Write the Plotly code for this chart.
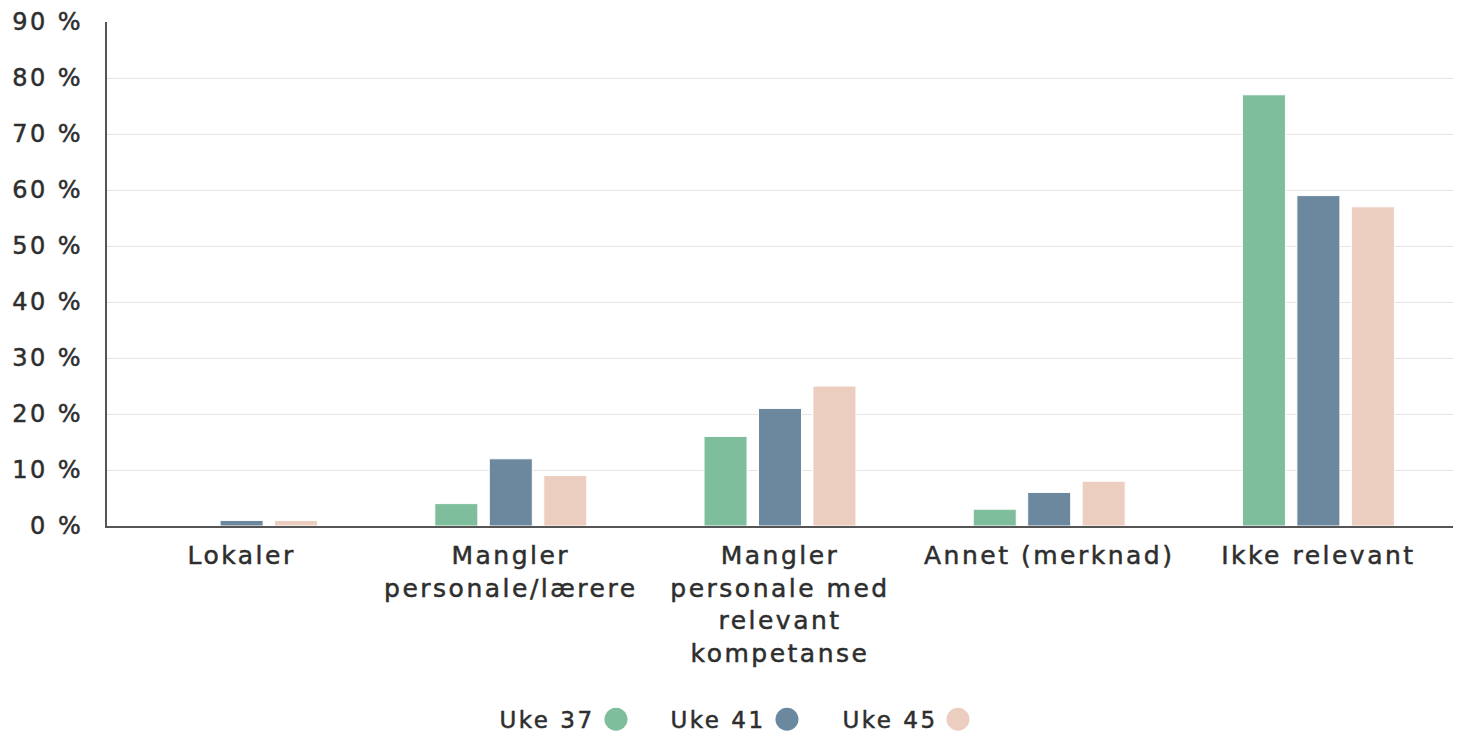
import plotly.graph_objects as go

categories = ["Lokaler", "Mangler<br>personale/lærere", "Mangler<br>personale med<br>relevant<br>kompetanse",
              "Annet (merknad)", "Ikke relevant"]
series_names = ["Uke 37", "Uke 41", "Uke 45"]
uke37 = [0, 4, 16, 3, 77]
uke41 = [1, 12, 21, 6, 59]
uke45 = [1, 9, 25, 8, 57]
colors = ["#7EBE9C", "#6B889E", "#ECCEC1"]
tick_vals = [0, 10, 20, 30, 40, 50, 60, 70, 80, 90]
tick_text = ["0 %", "10 %", "20 %", "30 %", "40 %", "50 %", "60 %", "70 %", "80 %", "90 %"]

FONT = "DejaVu Sans"
TXT = "#2e2e2e"

fig = go.Figure()
for name, vals, col in zip(series_names, [uke37, uke41, uke45], colors):
    fig.add_trace(go.Bar(name=name, x=categories, y=vals, marker=dict(color=col, line=dict(color="white", width=1)),
                         showlegend=False))

W, H = 1461, 733
L, R, T, B = 107, 8, 20, 733 - 526
pw, ph = W - L - R, H - T - B

def px(x):
    return (x - L) / pw

def py(y):
    return (H - B - y) / ph

legend_items = [("Uke 37", 589, 616), ("Uke 41", 760, 787), ("Uke 45", 932, 958)]
shapes = []
annotations = []
for (name, tx, cx), col in zip(legend_items, colors):
    annotations.append(dict(text=name, x=px(tx), y=py(721), xref="paper", yref="paper", xanchor="right",
                            yanchor="middle", showarrow=False, font=dict(family=FONT, size=23, color=TXT)))
    shapes.append(dict(type="circle", xref="paper", yref="paper", x0=px(cx - 11.5), x1=px(cx + 11.5),
                       y0=py(731.5), y1=py(708.5), fillcolor=col, line=dict(width=0)))

fig.update_layout(
    width=W, height=H,
    margin=dict(l=L, r=R, t=T, b=B),
    plot_bgcolor="white", paper_bgcolor="white",
    barmode="group", bargap=0.393, bargroupgap=0.21,
    font=dict(family=FONT, size=25, color=TXT),
    shapes=shapes, annotations=annotations,
    xaxis=dict(showline=True, linecolor="#555555", linewidth=2, ticks="", tickfont=dict(size=25, color=TXT),
               fixedrange=True, ticklabelstandoff=6),
    yaxis=dict(range=[0, 90], tickmode="array", tickvals=tick_vals, ticktext=tick_text, showgrid=True,
               gridcolor="#e6e6e6", gridwidth=1, showline=True, linecolor="#555555", linewidth=2,
               zeroline=False, tickfont=dict(size=24, color=TXT), ticklabelstandoff=17, fixedrange=True),
)

post = """
document.body.style.margin = '0';
document.body.style.overflow = 'hidden';
document.querySelectorAll('.main-svg text').forEach(function(t){
  t.style.letterSpacing = '2.5px';
  t.style.stroke = '#2e2e2e';
  t.style.strokeWidth = '0.5px';
});
"""

fig.write_html("out.html", post_script=post, config={"displayModeBar": False})
